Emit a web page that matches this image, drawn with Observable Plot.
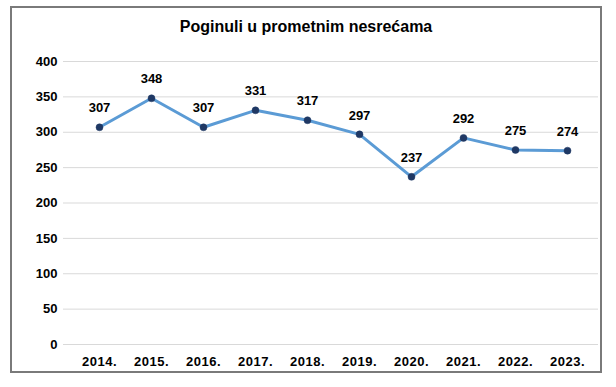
<!DOCTYPE html>
<html>
<head>
<meta charset="utf-8">
<script src="https://cdn.jsdelivr.net/npm/d3@7"></script>
<script src="https://cdn.jsdelivr.net/npm/@observablehq/plot@0.6"></script>
<style>
  body { margin: 0; background: #fff; font-family: "Liberation Sans", Arial, sans-serif; }
  #wrap { position: relative; width: 616px; height: 387px; overflow: hidden; }
  #border { position: absolute; left: 10px; top: 6px; width: 592px; height: 367px; border: 2px solid #7a7a7a; box-sizing: border-box; }
  #title { position: absolute; left: 10px; top: 18px; width: 592px; text-align: center; font-weight: bold; font-size: 16px; color: #000; }
  #chart { position: absolute; left: 0; top: 0; }
</style>
</head>
<body>
<div id="wrap">
  <div id="border"></div>
  <div id="title">Poginuli u prometnim nesrećama</div>
  <div id="chart"></div>
</div>
<script>
const years = ["2014.", "2015.", "2016.", "2017.", "2018.", "2019.", "2020.", "2021.", "2022.", "2023."];
const deaths = [307, 348, 307, 331, 317, 297, 237, 292, 275, 274];
const yTicks = [0, 50, 100, 150, 200, 250, 300, 350, 400];

const data = years.map((y, i) => ({year: y, value: deaths[i]}));

const chart = Plot.plot({
  width: 616,
  height: 387,
  marginTop: 61,
  marginBottom: 43,
  marginLeft: 63,
  marginRight: 18,
  style: { fontFamily: '"Liberation Sans", Arial, sans-serif', fontSize: "13px", fontWeight: "bold", color: "#000", background: "transparent" },
  x: { type: "point", domain: years, padding: 0.5, insetLeft: 7.4, insetRight: 1.7, label: null },
  y: { domain: [0, 400], ticks: yTicks, label: null },
  marks: [
    Plot.ruleY(yTicks, { stroke: "#d9d9d9", strokeWidth: 1 }),
    Plot.axisY({ ticks: yTicks, tickSize: 0, tickPadding: 6, label: null, fontWeight: "bold", fontSize: 13 }),
    Plot.axisX({ tickSize: 0, tickPadding: 12, label: null, fontWeight: "bold", fontSize: 13 }),
    Plot.line(data, { x: "year", y: "value", stroke: "#5b9bd5", strokeWidth: 3 }),
    Plot.dot(data, { x: "year", y: "value", r: 3.5, fill: "#1f3864", stroke: "#1f3864", strokeWidth: 0.5 }),
    Plot.text(data, { x: "year", y: "value", text: d => String(d.value), dy: -19, fontWeight: "bold", fontSize: 13, fill: "#000" })
  ]
});
chart.querySelectorAll('[aria-label="x-axis tick label"] text').forEach(t => t.setAttribute("letter-spacing", "0.5px"));
document.getElementById("chart").appendChild(chart);
</script>
</body>
</html>
